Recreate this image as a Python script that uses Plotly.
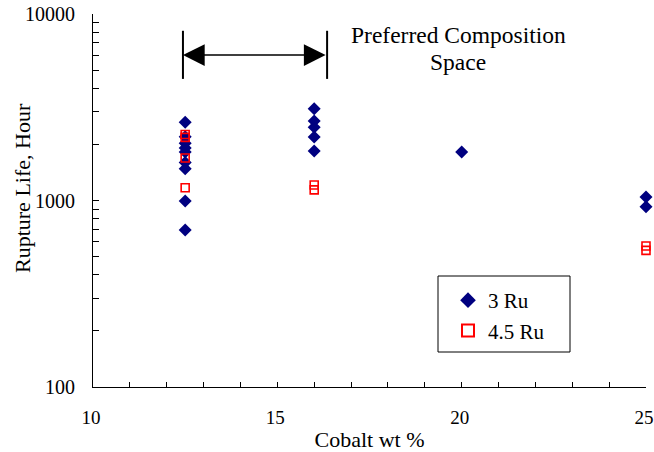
import plotly.graph_objects as go

# Rupture life (hours) vs cobalt content for two ruthenium levels
cobalt_3ru = [12.5, 12.5, 12.5, 12.5, 12.5, 12.5, 12.5, 12.5, 12.5,
              16, 16, 16, 16, 16,
              20,
              25, 25]
life_3ru = [2630, 2200, 2030, 1910, 1820, 1600, 1480, 995, 695,
            3100, 2670, 2470, 2190, 1840,
            1820,
            1045, 925]

cobalt_45ru = [12.5, 12.5, 12.5, 12.5,
               16, 16,
               25, 25]
life_45ru = [2260, 2180, 1690, 1170,
             1210, 1140,
             570, 540]

# Preferred composition window (cobalt wt %) shown by the double arrow
pref_lo, pref_hi = 12.44, 16.35
x_ticks = [10, 15, 20, 25]
y_ticks = [100, 1000, 10000]
y_minor = [200, 300, 400, 500, 600, 700, 800, 900,
           2000, 3000, 4000, 5000, 6000, 7000, 8000, 9000]

FONT = '"Liberation Serif", Tinos, "Times New Roman", serif'
W, H = 654, 452
L, R, T, B = 93, 8, 14, 65


def px_x(p):
    """Horizontal pixel -> paper fraction (paper spans the plot area)."""
    return (p - L) / (W - L - R)


def px_y(p):
    """Vertical pixel (from top) -> paper fraction."""
    return (H - B - p) / (H - T - B)


fig = go.Figure()
fig.add_trace(go.Scatter(
    x=cobalt_3ru, y=life_3ru, mode="markers", name="3 Ru",
    marker=dict(symbol="diamond", size=10, color="#000080",
                line=dict(width=0)),
    cliponaxis=False,
))
fig.add_trace(go.Scatter(
    x=cobalt_45ru, y=life_45ru, mode="markers", name="4.5 Ru",
    marker=dict(symbol="square-open", size=8, color="#ff0000",
                line=dict(width=1.6)),
    cliponaxis=False,
))

# vertical bounds of the preferred range
for xv in (pref_lo, pref_hi):
    fig.add_shape(type="line", xref="x", yref="y domain",
                  x0=xv, x1=xv, y0=0.826, y1=0.955,
                  line=dict(color="black", width=2))

# double-headed arrow between the bounds
fig.add_annotation(x=pref_lo, y=0.89, ax=pref_hi, ay=0.89,
                   xref="x", yref="y domain", axref="x", ayref="y domain",
                   text="", showarrow=True, arrowhead=2, startarrowhead=2,
                   arrowside="end+start", arrowsize=2.9, startarrowsize=2.9,
                   arrowwidth=1.5, arrowcolor="black")

# caption of the preferred range, one annotation per line
for line_text, ypix in (("Preferred Composition", 35), ("Space", 62)):
    fig.add_annotation(x=px_x(458), y=px_y(ypix),
                       xref="paper", yref="paper",
                       yanchor="middle", text=line_text, showarrow=False,
                       font=dict(family=FONT, size=23.5, color="black"))

# y-axis title
fig.add_annotation(x=px_x(22), y=px_y(188), xref="paper", yref="paper",
                   xanchor="center", yanchor="middle", textangle=-90,
                   text="Rupture Life, Hour", showarrow=False,
                   font=dict(family=FONT, size=22, color="black"))

# legend frame
fig.add_shape(type="rect", xref="paper", yref="paper",
              x0=px_x(438), x1=px_x(570), y0=px_y(352), y1=px_y(276),
              line=dict(color="black", width=1), fillcolor="white",
              layer="below")

fig.update_layout(
    width=W, height=H,
    margin=dict(l=L, r=R, t=T, b=B),
    paper_bgcolor="white", plot_bgcolor="rgba(0,0,0,0)",
    font=dict(family=FONT, size=20, color="black"),
    showlegend=True,
    legend=dict(x=px_x(448), y=px_y(280),
                xanchor="left", yanchor="top",
                borderwidth=0, bgcolor="rgba(0,0,0,0)",
                font=dict(family=FONT, size=21),
                itemsizing="constant", tracegroupgap=8,
                itemwidth=30),
)
fig.update_xaxes(
    range=[10, 25], tickvals=x_ticks, showgrid=False, zeroline=False,
    showline=True, linecolor="black", linewidth=1,
    ticks="inside", ticklen=5, tickcolor="black",
    minor=dict(dtick=1, ticks="inside", ticklen=5, tickcolor="black"),
    tickfont=dict(size=19), ticklabelshift=-2,
    ticklabelstandoff=13, ticklabeloverflow="allow", automargin=False,
    title=dict(text="Cobalt wt %", font=dict(family=FONT, size=22), standoff=7),
)
fig.update_yaxes(
    type="log", range=[2, 4], tickvals=y_ticks, ticktext=[str(v) for v in y_ticks],
    showgrid=False, zeroline=False,
    showline=True, linecolor="black", linewidth=1,
    ticks="inside", ticklen=6, tickcolor="black",
    minor=dict(tickvals=y_minor, ticks="inside", ticklen=6, tickcolor="black"),
    ticklabelstandoff=13, automargin=False,
)

fig.write_html("out.html")
